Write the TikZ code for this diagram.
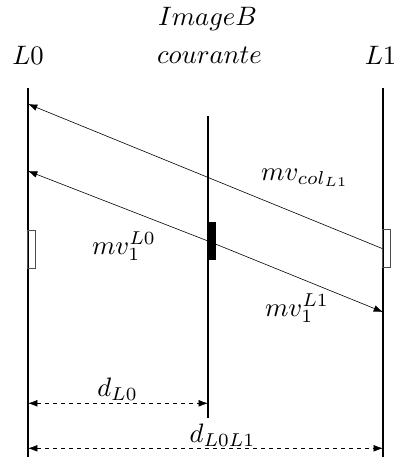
\documentclass[tikz,border=0pt]{standalone}
\usetikzlibrary{arrows.meta}
\begin{document}
\begin{tikzpicture}[x=0.75pt,y=-0.75pt,
  lbl/.style={anchor=base,inner sep=0pt,scale=2.0},
  axis/.style={line width=2.2pt},
  vec/.style={line width=0.45pt,-{Latex[length=7pt,width=5pt]}},
  dim/.style={line width=0.45pt,dashed,{Latex[length=7pt,width=5pt]}-{Latex[length=7pt,width=5pt]}},
  bx/.style={draw=black!70,line width=0.5pt,minimum width=6pt,minimum height=28.5pt,inner sep=0pt}]
\useasboundingbox (0,0) rectangle (396,457);
% axes
\coordinate (l0t) at (28,88);   \coordinate (l0b) at (28,457);
\coordinate (l1t) at (383,88);  \coordinate (l1b) at (383,457);
\coordinate (mt) at (208,116);  \coordinate (mb) at (208,418);
\draw[axis] (l0t) -- (l0b);
\draw[axis] (l1t) -- (l1b);
\draw[axis] (mt) -- (mb);
% labels
\node[lbl] (tImg) at (207.5,25) {$ImageB$};
\node[lbl] (tCour) at (209.5,63.5) {$courante$};
\node[lbl] (tL0) at (28,64) {$L0$};
\node[lbl] (tL1) at (380.5,64) {$L1$};
% boxes
\node[bx] (lb) at (31.5,249) {};
\node[bx] (rb) at (386.5,248.5) {};
\node[fill=black,minimum width=5.25pt,minimum height=28.5pt,inner sep=0pt] (blk) at (212.5,241) {};
\coordinate (blkc) at (208,241);
% vectors
\coordinate (a1) at (28,104);
\coordinate (a2) at (28,171);
\coordinate (a3) at (383,312);
\draw[vec] (rb.west) -- (a1);
\draw[vec] (blkc) -- (a2);
\draw[vec] (blkc) -- (a3);
\node[lbl] (mvcol) at (305,180) {$mv_{col_{L1}}$};
\node[lbl] (mvl0) at (124,254) {$mv_1^{L0}$};
\node[lbl] (mvl1) at (297,316) {$mv_1^{L1}$};
% dimensions
\coordinate (d1a) at (28,403.3); \coordinate (d1b) at (208,403.3);
\coordinate (d2a) at (28,448.3); \coordinate (d2b) at (383,448.3);
\draw[dim] (d1a) -- (d1b);
\draw[dim] (d2a) -- (d2b);
\node[lbl] (dl0) at (117.5,396) {$d_{L0}$};
\node[lbl] (dl0l1) at (222.5,442) {$d_{L0L1}$};
\end{tikzpicture}
\end{document}
